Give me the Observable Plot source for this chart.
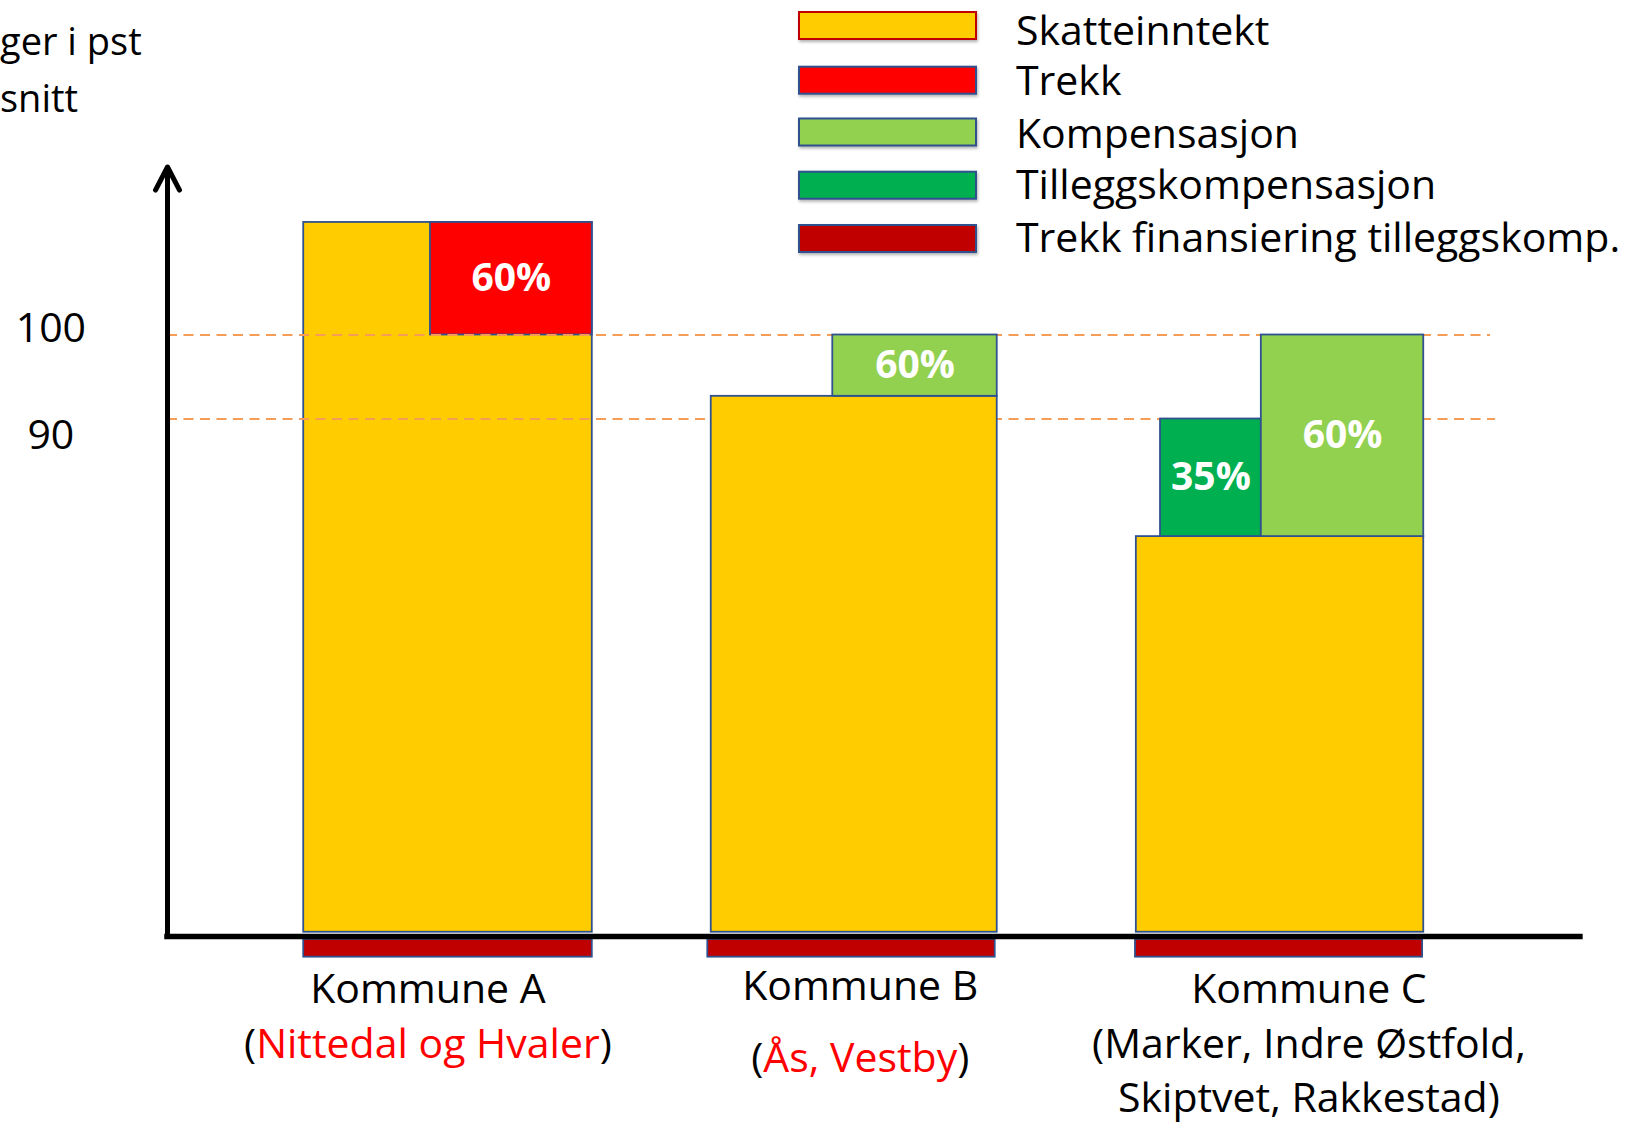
<!DOCTYPE html>
<html>
<head>
<meta charset="utf-8">
<script src="https://cdn.jsdelivr.net/npm/d3@7"></script>
<script src="https://cdn.jsdelivr.net/npm/@observablehq/plot@0.6"></script>
<style>
  html, body { margin: 0; padding: 0; background: #fff; }
  body { width: 1634px; height: 1125px; position: relative; overflow: hidden; font-family: "Open Sans", sans-serif; }
  #chart { position: absolute; left: 0; top: 0; }
  #overlay { position: absolute; left: 0; top: 0; pointer-events: none; }
</style>
</head>
<body>
<div id="chart"></div>
<svg id="overlay" width="1634" height="1125"></svg>
<script>
// ---------- data ----------
const kommuner = ["Kommune A", "Kommune B", "Kommune C"];
const skatteinntekt = [113.4, 92.7, 76.0];           // top of the yellow bars (index, 100 = average)
const soyleX1 = [0.473, 1.888, 3.364];                // bar left, in bar-width units
const soyleX2 = [1.475, 2.881, 4.362];                // bar right
const soyleBunn = 28.9;                               // schematic bar base
const akseNivaa = 28.4;                               // schematic x axis level
const pilTopp = 120;                                  // top of the y-axis arrow
const akseSlutt = 4.906;                              // right end of x axis

const blokkKommune = ["Kommune A", "Kommune B", "Kommune C", "Kommune C"];
const blokkSerie = ["Trekk", "Kompensasjon", "Tilleggskompensasjon", "Kompensasjon"];
const blokkX1 = [0.913, 2.310, 3.448, 3.798];
const blokkX2 = [1.475, 2.881, 3.798, 4.362];
const blokkFra = [100, 92.7, 76.0, 76.0];
const blokkTil = [113.4, 100, 90, 100];
const blokkAndel = ["60%", "60%", "35%", "60%"];

const finansX1 = [0.473, 1.876, 3.361];
const finansX2 = [1.475, 2.874, 4.358];
const finansTopp = 28.05;
const finansBunn = 25.93;

const referanser = [100, 90];
const referanseSlutt = [4.594, 4.611];
const tickLabels = ["100", "90"];

const serier = ["Skatteinntekt", "Trekk", "Kompensasjon", "Tilleggskompensasjon", "Trekk finansiering tilleggskomp."];
const farger = ["#FFCC00", "#FF0000", "#92D050", "#00B050", "#C00000"];

const etikettX = [0.906, 2.407, 3.965];
const kommuneNavnLinjer = [["Nittedal og Hvaler"], ["Ås, Vestby"], ["Marker, Indre Østfold,", "Skiptvet, Rakkestad"]];
const uthevet = [true, true, false];

const tittelLinjer = ["ger i pst", "snitt"];

// ---------- build tables ----------
const skatt = kommuner.map((k, i) => ({kommune: k, serie: "Skatteinntekt", x1: soyleX1[i], x2: soyleX2[i], y1: soyleBunn, y2: skatteinntekt[i]}));
const blokker = blokkKommune.map((k, i) => ({kommune: k, serie: blokkSerie[i], x1: blokkX1[i], x2: blokkX2[i], y1: blokkFra[i], y2: blokkTil[i], andel: blokkAndel[i]}));
const finans = kommuner.map((k, i) => ({kommune: k, serie: serier[4], x1: finansX1[i], x2: finansX2[i], y1: finansBunn, y2: finansTopp}));
const refs = referanser.map((v, i) => ({v, slutt: referanseSlutt[i], label: tickLabels[i]}));

const outline = "#2F528F";
const rectOpts = {x1: "x1", x2: "x2", y1: "y1", y2: "y2", fill: "serie", stroke: outline, strokeWidth: 1.8};
const erA = d => d.kommune === "Kommune A";

const plot = Plot.plot({
  width: 1634, height: 1125,
  marginTop: 0, marginRight: 0, marginBottom: 0, marginLeft: 0,
  style: {fontFamily: "'Open Sans', sans-serif", background: "transparent"},
  x: {type: "linear", domain: [0, 1], range: [167, 455], axis: null},
  y: {type: "linear", domain: [90, 100], range: [418.5, 334.5], axis: null},
  color: {domain: serier, range: farger},
  marks: [
    Plot.rect(skatt.filter(erA), rectOpts),
    Plot.rect(blokker.filter(erA), rectOpts),
    Plot.ruleY(refs, {y: "v", x1: 0, x2: "slutt", stroke: "#F59D56", strokeWidth: 2, strokeDasharray: "10,6.5"}),
    Plot.rect(skatt.filter(d => !erA(d)), rectOpts),
    Plot.rect(blokker.filter(d => !erA(d)), rectOpts),
    Plot.text(blokker, {x: d => (d.x1 + d.x2) / 2, y: d => (d.y1 + d.y2) / 2, text: "andel", fill: "white", fontWeight: "bold", fontSize: 39}),
    Plot.rect(finans, {...rectOpts, ariaLabel: "finans"}),
    Plot.ruleY([akseNivaa], {x1: 0, x2: akseSlutt, stroke: "black", strokeWidth: 5.5, strokeLinecap: "square", ariaLabel: "akse"}),
    Plot.arrow([{}], {x1: 0, x2: 0, y1: akseNivaa, y2: pilTopp, stroke: "black", strokeWidth: 5, headLength: 7.8, headAngle: 55, ariaLabel: "akse"}),
    Plot.text(refs.filter(d => d.v === 100), {x: -0.405, y: "v", text: "label", fontSize: 41, fill: "black", dy: -6}),
    Plot.text(refs.filter(d => d.v === 90), {x: -0.405, y: "v", text: "label", fontSize: 41, fill: "black", dy: 16.5})
  ]
});
document.getElementById("chart").appendChild(plot);

const svg = d3.select(plot);
svg.selectAll('g[aria-label="akse"], g[aria-label="finans"]').style("filter", "drop-shadow(1.5px 2.5px 1.5px rgba(0,0,0,0.35))");

// ---------- category labels under the axis ----------
const xs = plot.scale("x"), ys = plot.scale("y");
const axisPx = ys.apply(akseNivaa);
const linjeOffset = [[66.7, 122], [64, 135.7], [67, 122, 176]];
const lab = svg.append("g").attr("font-family", "'Open Sans', sans-serif").attr("font-size", 41).attr("text-anchor", "middle");
kommuner.forEach((k, i) => {
  const cx = xs.apply(etikettX[i]);
  lab.append("text").attr("x", cx).attr("y", axisPx + linjeOffset[i][0]).attr("fill", "#000").text(k);
  const linjer = kommuneNavnLinjer[i];
  linjer.forEach((l, j) => {
    const t = lab.append("text").attr("x", cx).attr("y", axisPx + linjeOffset[i][j + 1]).attr("fill", "#000");
    if (j === 0) t.append("tspan").text("(");
    t.append("tspan").attr("fill", uthevet[i] ? "#FF0000" : "#000").text(l);
    if (j === linjer.length - 1) t.append("tspan").text(")");
  });
});

// ---------- legend and title ----------
const ov = d3.select("#overlay");
const swTop = [12, 66.7, 118.5, 171.7, 225];
const txtBase = [44.5, 95, 147.7, 199.3, 251.7];
const leg = ov.append("g");
serier.forEach((s, i) => {
  leg.append("rect").attr("x", 799).attr("y", swTop[i]).attr("width", 177).attr("height", 27)
    .attr("fill", farger[i]).attr("stroke", i === 0 ? "#C00000" : outline).attr("stroke-width", 2)
    .style("filter", "drop-shadow(1.5px 2.5px 1.5px rgba(0,0,0,0.3))");
  leg.append("text").attr("x", 1016).attr("y", txtBase[i]).attr("font-family", "'Open Sans', sans-serif")
    .attr("font-size", 41).attr("fill", "#000").text(s);
});
const tit = ov.append("g");
tittelLinjer.forEach((t, i) => {
  tit.append("text").attr("x", 0).attr("y", [55, 111.7][i]).attr("font-family", "'Open Sans', sans-serif")
    .attr("font-size", 38).attr("fill", "#000").text(t);
});
</script>
</body>
</html>
